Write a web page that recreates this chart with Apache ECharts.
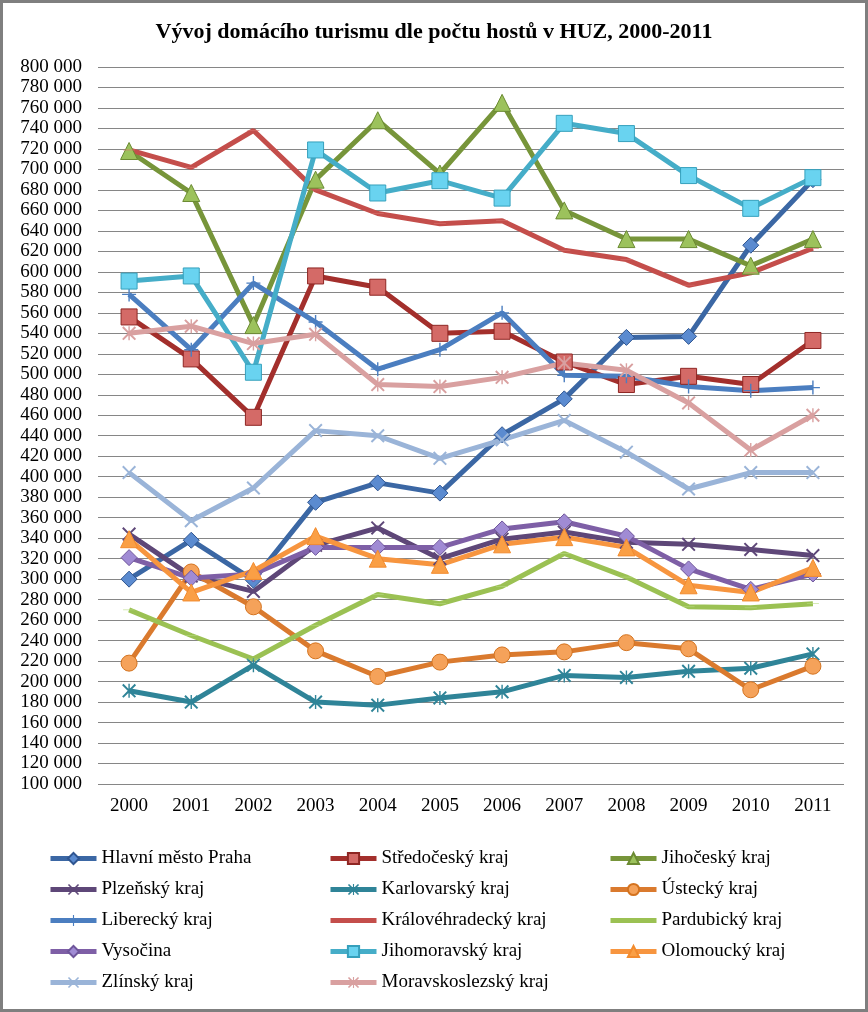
<!DOCTYPE html>
<html><head><meta charset="utf-8">
<script src="https://cdn.jsdelivr.net/npm/echarts@6/dist/echarts.min.js"></script>
<style>html,body{margin:0;padding:0;background:#fff}#c{width:868px;height:1012px}</style>
</head><body><div id="c"></div>
<script>
const years = ['2000','2001','2002','2003','2004','2005','2006','2007','2008','2009','2010','2011'];
const praha = [300000,338000,299000,375000,394000,384000,441000,476000,536000,537000,626000,690000];
const stredocesky = [556000,515000,458000,596000,585000,540000,542000,512000,490000,498000,490000,533000];
const jihocesky = [718000,677000,548000,690000,748000,696000,765000,660000,632000,632000,606000,632000];
const plzensky = [344000,303000,288000,333000,350000,320000,339000,346000,336000,334000,329000,323000];
const karlovarsky = [191000,180000,216000,180000,177000,184000,190000,206000,204000,210000,213000,227000];
const ustecky = [218000,307000,273000,230000,205000,219000,226000,229000,238000,232000,192000,215000];
const liberecky = [578000,524000,589000,551000,505000,524000,560000,499000,498000,488000,484000,487000];
const kralovehradecky = [719000,702000,738000,680000,657000,647000,650000,621000,612000,587000,599000,623000];
const pardubicky = [270000,245000,222000,255000,285000,276000,293000,325000,302000,273000,272000,276000];
const vysocina = [321000,301000,305000,331000,331000,331000,349000,356000,342000,310000,290000,305000];
const jihomoravsky = [591000,596000,502000,719000,677000,689000,672000,745000,735000,694000,662000,692000];
const olomoucky = [339000,287000,308000,342000,320000,314000,334000,341000,331000,294000,287000,311000];
const zlinsky = [404000,357000,389000,445000,440000,418000,436000,455000,424000,388000,404000,404000];
const moravskoslezsky = [540000,547000,530000,539000,490000,488000,497000,511000,504000,472000,426000,460000];
const names = ['Hlavní město Praha','Středočeský kraj','Jihočeský kraj','Plzeňský kraj','Karlovarský kraj','Ústecký kraj','Liberecký kraj','Královéhradecký kraj','Pardubický kraj','Vysočina','Jihomoravský kraj','Olomoucký kraj','Zlínský kraj','Moravskoslezský kraj'];

const X = 'path://M2,0 L10,8 L18,0 L20,2 L12,10 L20,18 L18,20 L10,12 L2,20 L0,18 L8,10 L0,2 Z';
const AST = 'path://M2,0 L9,7 L9,0 L11,0 L11,7 L18,0 L20,2 L12,10 L20,18 L18,20 L11,13 L11,20 L9,20 L9,13 L2,20 L0,18 L8,10 L0,2 Z';
const PLUS = 'path://M9,0 L11,0 L11,9 L20,9 L20,11 L11,11 L11,20 L9,20 L9,11 L0,11 L0,9 L9,9 Z';
const DASH = 'path://M0,0 L20,0 L20,4 L0,4 Z';

function mk(name, data, line, symbol, size, fill, border) {
  return {
    name, type: 'line', data,
    symbol, symbolSize: size, symbolKeepAspect: true,
    lineStyle: {color: line, width: 5},
    itemStyle: {color: fill, borderColor: border || fill, borderWidth: border ? 1 : 0},
    emphasis: {disabled: true},
    z: 2
  };
}
const series = [
  mk(names[0], praha, '#3B67A4', 'diamond', 16, '#5B8BD0', '#2F5590'),
  mk(names[1], stredocesky, '#A32F2C', 'rect', 16, '#D46A67', '#8E2623'),
  mk(names[2], jihocesky, '#77953A', 'triangle', 17, '#9CC25C', '#6B8A32'),
  mk(names[3], plzensky, '#5E4778', X, 14, '#5E4778', null),
  mk(names[4], karlovarsky, '#2F8498', AST, 14, '#2F8498', null),
  mk(names[5], ustecky, '#DA7A2E', 'circle', 16, '#F5A25A', '#D4731F'),
  mk(names[6], liberecky, '#4B7EC0', PLUS, 14, '#4B7EC0', null),
  mk(names[7], kralovehradecky, '#C44E4B', DASH, [12,3], '#D9706D', null),
  mk(names[8], pardubicky, '#9BC153', DASH, [12,3], '#B8DA80', null),
  mk(names[9], vysocina, '#7E5FA6', 'diamond', 16, '#A08BD4', '#6E559A'),
  mk(names[10], jihomoravsky, '#45ADC8', 'rect', 16, '#69D3F0', '#36A0BC'),
  mk(names[11], olomoucky, '#F7953F', 'triangle', 17, '#FA9F45', '#F28B2E'),
  mk(names[12], zlinsky, '#9AB4D8', X, 14, '#9AB4D8', null),
  mk(names[13], moravskoslezsky, '#D9A0A0', AST, 14, '#D9A0A0', null)
];

const legendBase = {
  orient: 'vertical', itemWidth: 46, itemHeight: 14, itemGap: 12, padding: 0, itemTextGap: 4,
  textStyle: {fontFamily: 'Liberation Serif', fontSize: 19, color: '#000'},
  lineStyle: {width: 5},
  selectedMode: false
};
const noSym = n => ({name: n, itemStyle: {opacity: 0}});
const fmt = v => String(v).replace(/\B(?=(\d{3})+(?!\d))/g, ' ');

const chart = echarts.init(document.getElementById('c'), null, {renderer: 'canvas'});
chart.setOption({
  animation: false,
  backgroundColor: '#fff',
  title: {
    text: 'Vývoj domácího turismu dle počtu hostů v HUZ, 2000-2011',
    left: 'center', top: 16,
    textStyle: {fontFamily: 'Liberation Serif', fontWeight: 'bold', fontSize: 22, color: '#000'}
  },
  grid: {left: 98, right: 24, top: 67, bottom: 228, containLabel: false},
  xAxis: {
    type: 'category', data: years, boundaryGap: true,
    axisLine: {show: false}, axisTick: {show: false},
    axisLabel: {fontFamily: 'Liberation Serif', fontSize: 19, color: '#000', margin: 13}
  },
  yAxis: {
    type: 'value', min: 100000, max: 800000, interval: 20000,
    axisLine: {show: false}, axisTick: {show: false},
    splitLine: {lineStyle: {color: '#868686', width: 1}},
    axisLabel: {fontFamily: 'Liberation Serif', fontSize: 19, color: '#000', margin: 16, formatter: fmt}
  },
  legend: [
    Object.assign({}, legendBase, {left: 48, top: 849, height: 160, data: [names[0], names[3], names[6], names[9], names[12]]}),
    Object.assign({}, legendBase, {left: 328, top: 849, height: 160, data: [names[1], names[4], noSym(names[7]), names[10], names[13]]}),
    Object.assign({}, legendBase, {left: 608, top: 849, height: 160, data: [names[2], names[5], noSym(names[8]), names[11]]})
  ],
  graphic: [{
    type: 'rect', shape: {x: 1.5, y: 1.5, width: 865, height: 1009},
    style: {fill: 'none', stroke: '#7F7F7F', lineWidth: 3}, silent: true, z: 100
  }],
  series
});
</script></body></html>
